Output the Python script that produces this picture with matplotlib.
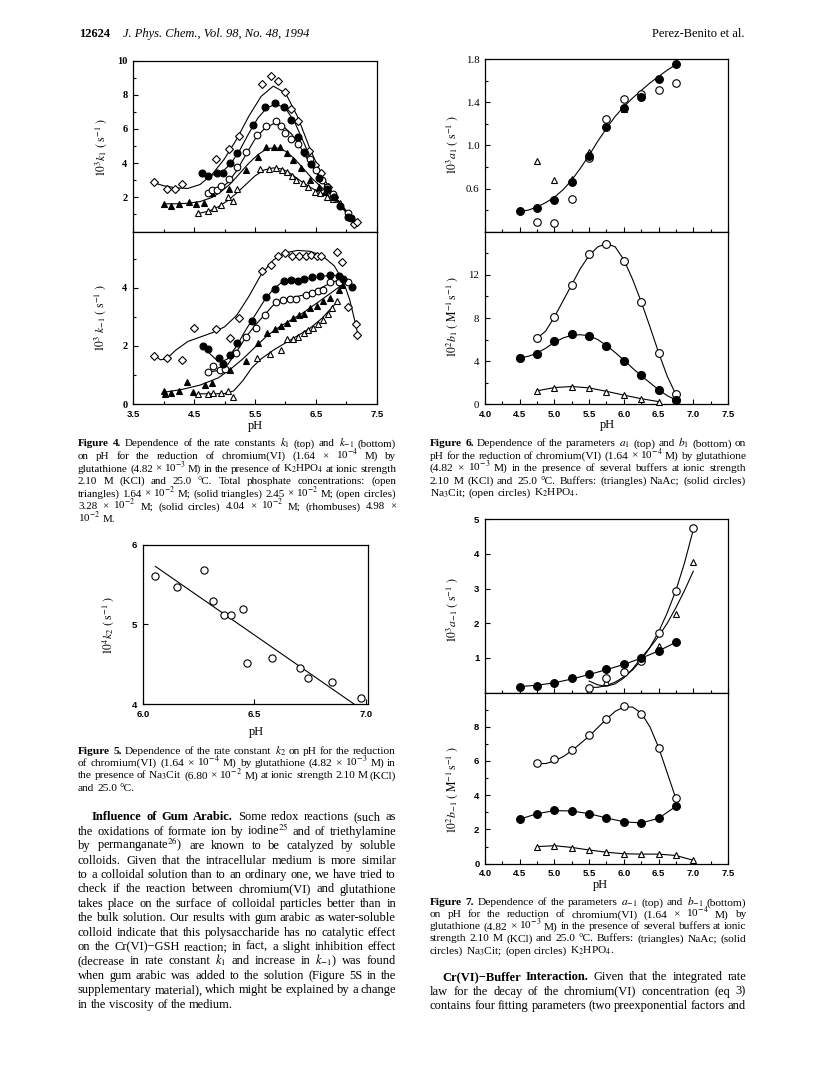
import matplotlib
matplotlib.use('Agg')
import matplotlib.pyplot as plt
from matplotlib.transforms import IdentityTransform

W, H = 820, 1068

# ---- Figure 4 (k1 top, k-1 bottom), five phosphate concentrations ----
f4t_di_x = [3.84, 4.05, 4.19, 4.30, 4.86, 5.08, 5.23, 5.61, 5.76, 5.87, 6.00, 6.09, 6.20, 6.39, 6.48, 6.59, 6.70, 6.80, 7.12, 7.18]
f4t_di_y = [2.91, 2.47, 2.47, 2.80, 4.26, 4.81, 5.60, 8.64, 9.09, 8.78, 8.16, 7.18, 6.48, 4.73, 3.89, 3.40, 2.62, 2.04, 0.45, 0.55]
f4t_sc_x = [4.63, 4.73, 4.88, 4.98, 5.09, 5.21, 5.46, 5.66, 5.82, 5.98, 6.09, 6.21, 6.31, 6.42, 6.55, 6.68, 6.80, 6.89, 7.03, 7.08]
f4t_sc_y = [3.44, 3.25, 3.40, 3.40, 3.99, 4.61, 6.23, 7.30, 7.50, 7.30, 6.52, 5.51, 4.63, 3.95, 3.10, 2.50, 2.00, 1.49, 0.87, 0.80]
f4t_oc_x = [4.73, 4.79, 4.87, 4.95, 5.08, 5.20, 5.35, 5.53, 5.68, 5.84, 5.92, 5.99, 6.09, 6.20, 6.32, 6.40, 6.50, 6.60, 6.68, 6.78, 7.02]
f4t_oc_y = [2.27, 2.42, 2.43, 2.66, 3.05, 3.79, 4.67, 5.64, 6.17, 6.48, 6.17, 5.78, 5.39, 5.12, 4.61, 4.22, 3.60, 3.00, 2.62, 2.18, 1.10]
f4t_st_x = [4.00, 4.13, 4.25, 4.41, 4.54, 4.66, 4.79, 5.07, 5.36, 5.55, 5.68, 5.81, 5.91, 6.02, 6.13, 6.25, 6.40, 6.55, 6.65, 6.78]
f4t_st_y = [1.61, 1.49, 1.61, 1.74, 1.61, 1.67, 2.23, 2.47, 3.60, 4.37, 4.96, 4.96, 4.96, 4.57, 4.18, 3.70, 3.00, 2.60, 2.30, 2.03]
f4t_ot_x = [4.57, 4.73, 4.82, 4.95, 5.06, 5.14, 5.21, 5.59, 5.73, 5.84, 5.94, 6.02, 6.10, 6.18, 6.28, 6.37, 6.48, 6.57, 6.68, 6.78, 6.89]
f4t_ot_y = [1.06, 1.22, 1.36, 1.55, 2.00, 1.77, 2.47, 3.65, 3.65, 3.70, 3.60, 3.48, 3.25, 3.01, 2.85, 2.62, 2.33, 2.23, 2.03, 1.88, 1.68]

f4t_di_fx = [3.84, 4.0, 4.2, 4.4, 4.6, 4.8, 5.0, 5.2, 5.4, 5.6, 5.8, 6.0, 6.2, 6.4, 6.6, 6.8, 7.0, 7.2]
f4t_di_fy = [2.85, 2.68, 2.55, 2.52, 2.75, 3.35, 4.25, 5.40, 6.75, 7.90, 8.50, 8.10, 6.70, 4.85, 3.25, 2.10, 1.20, 0.45]
f4t_sc_fx = [4.63, 4.8, 4.95, 5.1, 5.25, 5.4, 5.55, 5.7, 5.85, 6.0, 6.15, 6.3, 6.45, 6.6, 6.75, 6.9, 7.05]
f4t_sc_fy = [3.35, 3.30, 3.45, 3.95, 4.75, 5.75, 6.65, 7.25, 7.45, 7.20, 6.40, 5.20, 3.95, 2.95, 2.20, 1.50, 0.85]
f4t_oc_fx = [4.73, 4.9, 5.05, 5.2, 5.35, 5.5, 5.65, 5.8, 5.95, 6.1, 6.25, 6.4, 6.55, 6.7, 6.85, 7.0]
f4t_oc_fy = [2.20, 2.40, 2.85, 3.55, 4.50, 5.40, 6.00, 6.30, 6.20, 5.70, 4.90, 4.00, 3.20, 2.50, 1.85, 1.15]
f4t_st_fx = [4.0, 4.2, 4.4, 4.6, 4.8, 4.95, 5.1, 5.25, 5.4, 5.55, 5.7, 5.85, 6.0, 6.15, 6.3, 6.45, 6.6, 6.8]
f4t_st_fy = [1.62, 1.62, 1.65, 1.75, 2.00, 2.35, 2.80, 3.40, 4.00, 4.50, 4.85, 4.90, 4.70, 4.25, 3.65, 3.05, 2.55, 2.00]
f4t_ot_fx = [4.57, 4.75, 4.9, 5.05, 5.2, 5.35, 5.5, 5.65, 5.8, 5.95, 6.1, 6.25, 6.4, 6.55, 6.7, 6.9]
f4t_ot_fy = [1.05, 1.20, 1.45, 1.80, 2.25, 2.75, 3.25, 3.60, 3.72, 3.65, 3.35, 2.95, 2.60, 2.30, 2.05, 1.70]

f4b_di_x = [3.84, 4.05, 4.30, 4.50, 4.86, 5.09, 5.23, 5.61, 5.76, 5.87, 5.99, 6.11, 6.22, 6.33, 6.42, 6.51, 6.59, 6.85, 6.93, 7.02, 7.15, 7.17]
f4b_di_y = [1.66, 1.58, 1.52, 2.60, 2.59, 2.26, 2.96, 4.56, 4.79, 5.08, 5.20, 5.08, 5.08, 5.10, 5.12, 5.08, 5.08, 5.22, 4.89, 3.33, 2.76, 2.38]
f4b_sc_x = [4.64, 4.73, 4.91, 4.98, 5.09, 5.21, 5.45, 5.68, 5.82, 5.98, 6.09, 6.20, 6.31, 6.44, 6.57, 6.73, 6.87, 6.95, 7.09]
f4b_sc_y = [1.98, 1.89, 1.58, 1.38, 1.69, 2.11, 2.84, 3.67, 3.96, 4.24, 4.26, 4.24, 4.28, 4.36, 4.39, 4.45, 4.41, 4.30, 4.01]
f4b_oc_x = [4.73, 4.81, 4.92, 5.00, 5.19, 5.35, 5.52, 5.66, 5.84, 5.96, 6.07, 6.18, 6.34, 6.44, 6.54, 6.62, 6.73, 6.88, 7.02]
f4b_oc_y = [1.11, 1.29, 1.18, 1.20, 1.77, 2.32, 2.61, 3.07, 3.49, 3.59, 3.62, 3.62, 3.76, 3.80, 3.87, 3.93, 4.18, 4.20, 4.18]
f4b_st_x = [4.00, 4.02, 4.13, 4.25, 4.38, 4.48, 4.68, 4.80, 5.09, 5.36, 5.55, 5.69, 5.82, 5.93, 6.03, 6.13, 6.22, 6.30, 6.40, 6.51, 6.62, 6.73, 6.87, 6.93]
f4b_st_y = [0.46, 0.35, 0.38, 0.43, 0.74, 0.40, 0.65, 0.71, 1.17, 1.48, 2.11, 2.44, 2.58, 2.67, 2.80, 2.96, 3.05, 3.10, 3.30, 3.36, 3.53, 3.64, 3.93, 4.10]
f4b_ot_x = [4.57, 4.73, 4.81, 4.95, 5.06, 5.14, 5.53, 5.75, 5.93, 6.02, 6.13, 6.20, 6.30, 6.37, 6.45, 6.54, 6.62, 6.70, 6.77, 6.84]
f4b_ot_y = [0.34, 0.36, 0.38, 0.38, 0.44, 0.25, 1.58, 1.72, 1.86, 2.24, 2.24, 2.30, 2.45, 2.55, 2.62, 2.75, 2.90, 3.10, 3.30, 3.53]

f4b_di_fx = [3.84, 3.95, 4.05, 4.2, 4.4, 4.6, 4.8, 5.0, 5.2, 5.4, 5.6, 5.8, 6.0, 6.2, 6.4, 6.6, 6.8, 6.95, 7.05, 7.12, 7.18]
f4b_di_fy = [1.68, 1.52, 1.55, 1.85, 2.15, 2.30, 2.45, 2.65, 3.05, 3.70, 4.45, 4.95, 5.20, 5.28, 5.25, 5.10, 4.75, 4.20, 3.60, 3.00, 2.45]
f4b_sc_fx = [4.64, 4.75, 4.85, 4.95, 5.05, 5.2, 5.35, 5.5, 5.65, 5.8, 5.95, 6.1, 6.3, 6.5, 6.7, 6.85, 7.0, 7.1]
f4b_sc_fy = [2.00, 1.75, 1.55, 1.45, 1.55, 2.00, 2.55, 3.05, 3.55, 3.95, 4.20, 4.28, 4.30, 4.35, 4.42, 4.42, 4.20, 4.00]
f4b_oc_fx = [4.73, 4.9, 5.05, 5.2, 5.35, 5.5, 5.65, 5.8, 5.95, 6.1, 6.3, 6.5, 6.7, 6.85, 7.0]
f4b_oc_fy = [1.10, 1.15, 1.35, 1.80, 2.30, 2.70, 3.05, 3.40, 3.58, 3.65, 3.75, 3.90, 4.12, 4.25, 4.20]
f4b_st_fx = [4.0, 4.3, 4.6, 4.9, 5.1, 5.3, 5.5, 5.7, 5.9, 6.1, 6.3, 6.5, 6.7, 6.93]
f4b_st_fy = [0.40, 0.50, 0.65, 0.90, 1.20, 1.55, 1.95, 2.35, 2.65, 2.90, 3.15, 3.45, 3.75, 4.10]
f4b_ot_fx = [4.57, 4.8, 5.0, 5.15, 5.3, 5.45, 5.6, 5.8, 6.0, 6.2, 6.4, 6.6, 6.84]
f4b_ot_fy = [0.35, 0.35, 0.36, 0.45, 0.80, 1.25, 1.55, 1.85, 2.10, 2.35, 2.60, 2.95, 3.50]

# ---- Figure 5 (k2 vs pH, Na3Cit) ----
f5_x = [6.055, 6.152, 6.275, 6.315, 6.365, 6.396, 6.447, 6.467, 6.577, 6.706, 6.740, 6.848, 6.980]
f5_y = [5.61, 5.475, 5.68, 5.30, 5.115, 5.115, 5.20, 4.52, 4.575, 4.45, 4.33, 4.28, 4.08]
f5_line_x = [6.056, 6.947]
f5_line_y = [5.73, 4.00]

# ---- Figure 6 (a1 top, b1 bottom); buffers ----
ph_q = [4.5, 4.75, 5.0, 5.25, 5.5, 5.75, 6.0, 6.25, 6.5, 6.75, 7.0]
f6t_sc_y = [0.39, 0.42, 0.49, 0.66, 0.90, 1.17, 1.345, 1.45, 1.62, 1.76]
f6t_oc_x = [4.75, 5.0, 5.25, 5.5, 5.75, 6.0, 6.25, 6.5, 6.75]
f6t_oc_y = [0.29, 0.285, 0.50, 0.88, 1.245, 1.43, 1.475, 1.515, 1.58]
f6t_ot_x = [4.75, 5.0, 5.25, 5.5, 5.75, 6.0, 6.25]
f6t_ot_y = [0.86, 0.68, 0.69, 0.94, 1.18, 1.34, 1.46]
f6t_fx = [4.5, 4.625, 4.75, 4.875, 5.0, 5.125, 5.25, 5.375, 5.5, 5.625, 5.75, 5.875, 6.0, 6.125, 6.25, 6.375, 6.5, 6.625, 6.75]
f6t_fy = [0.39, 0.40, 0.43, 0.47, 0.52, 0.59, 0.68, 0.79, 0.91, 1.04, 1.16, 1.27, 1.36, 1.44, 1.51, 1.58, 1.64, 1.70, 1.75]

f6b_oc_y = [6.14, 8.09, 11.1, 13.9, 14.9, 13.27, 9.45, 4.74, 0.96]
f6b_sc_y = [4.28, 4.68, 5.83, 6.54, 6.35, 5.42, 4.06, 2.67, 1.33, 0.40]
f6b_ot_x = [4.75, 5.0, 5.25, 5.5, 5.75, 6.0, 6.25, 6.5]
f6b_ot_y = [1.24, 1.55, 1.64, 1.49, 1.18, 0.87, 0.50, 0.25]
f6b_oc_fx = [4.75, 4.875, 5.0, 5.125, 5.25, 5.375, 5.5, 5.625, 5.75, 5.875, 6.0, 6.125, 6.25, 6.375, 6.5, 6.625, 6.75]
f6b_oc_fy = [6.1, 6.8, 8.1, 9.6, 11.1, 12.6, 13.8, 14.6, 14.9, 14.6, 13.4, 11.6, 9.5, 7.2, 4.8, 2.6, 0.9]
f6b_sc_fx = [4.5, 4.625, 4.75, 4.875, 5.0, 5.125, 5.25, 5.375, 5.5, 5.625, 5.75, 5.875, 6.0, 6.125, 6.25, 6.375, 6.5, 6.625, 6.75]
f6b_sc_fy = [4.30, 4.45, 4.75, 5.20, 5.75, 6.15, 6.40, 6.45, 6.35, 6.00, 5.45, 4.80, 4.10, 3.35, 2.65, 2.00, 1.35, 0.80, 0.40]
f6b_ot_fx = [4.75, 5.0, 5.25, 5.5, 5.75, 6.0, 6.25, 6.5]
f6b_ot_fy = [1.25, 1.55, 1.65, 1.52, 1.20, 0.85, 0.52, 0.25]

# ---- Figure 7 (a-1 top, b-1 bottom) ----
f7t_sc_y = [0.17, 0.20, 0.28, 0.41, 0.53, 0.68, 0.82, 1.00, 1.20, 1.46]
f7t_oc_x = [5.5, 5.75, 6.0, 6.25, 6.5, 6.75, 7.0]
f7t_oc_y = [0.12, 0.43, 0.60, 0.91, 1.72, 2.92, 4.75]
f7t_ot_x = [5.5, 5.75, 6.25, 6.5, 6.75, 7.0]
f7t_ot_y = [0.03, 0.31, 1.03, 1.35, 2.28, 3.77]
f7t_sc_fx = [4.5, 4.75, 5.0, 5.25, 5.5, 5.75, 6.0, 6.25, 6.5, 6.75]
f7t_sc_fy = [0.17, 0.21, 0.28, 0.39, 0.52, 0.66, 0.81, 0.99, 1.20, 1.45]
f7t_oc_fx = [5.5, 5.625, 5.75, 5.875, 6.0, 6.125, 6.25, 6.375, 6.5, 6.625, 6.75, 6.875, 7.0]
f7t_oc_fy = [0.15, 0.15, 0.20, 0.30, 0.45, 0.65, 0.93, 1.30, 1.75, 2.30, 2.95, 3.75, 4.70]
f7t_ot_fx = [5.5, 5.625, 5.75, 5.875, 6.0, 6.125, 6.25, 6.375, 6.5, 6.625, 6.75, 6.875, 7.0]
f7t_ot_fy = [0.33, 0.22, 0.18, 0.25, 0.42, 0.68, 1.00, 1.30, 1.62, 2.00, 2.45, 2.95, 3.50]

f7b_oc_y = [5.89, 6.09, 6.67, 7.50, 8.48, 9.20, 8.77, 6.77, 3.81]
f7b_sc_y = [2.59, 2.90, 3.13, 3.09, 2.90, 2.65, 2.41, 2.39, 2.68, 3.36]
f7b_ot_y = [0.99, 1.05, 0.93, 0.80, 0.66, 0.57, 0.56, 0.57, 0.51, 0.22]
f7b_oc_fx = [4.75, 4.875, 5.0, 5.125, 5.25, 5.5, 5.75, 5.875, 6.0, 6.125, 6.25, 6.375, 6.5, 6.625, 6.75]
f7b_oc_fy = [5.85, 5.85, 6.00, 6.25, 6.60, 7.45, 8.45, 8.90, 9.15, 9.15, 8.80, 8.00, 6.80, 5.30, 3.80]
f7b_sc_fy = [2.60, 2.92, 3.10, 3.08, 2.92, 2.67, 2.45, 2.38, 2.65, 3.35]
f7b_ot_fy = [1.00, 1.05, 0.95, 0.80, 0.67, 0.58, 0.56, 0.56, 0.48, 0.20]

# ---- page text ----
cap4 = [
    "*Figure *4.  Dependence of the rate constants $k_1$ (top) and $k_{-1}$ (bottom)",
    "on pH for the reduction of chromium(VI) (1.64 × 10$^{-4}$ M) by",
    "glutathione (4.82 × 10$^{-3}$ M) in the presence of K$_2$HPO$_4$ at ionic strength",
    "2.10 M (KCl) and 25.0 °C.  Total phosphate concentrations: (open",
    "triangles) 1.64 × 10$^{-2}$ M; (solid triangles) 2.45 × 10$^{-2}$ M; (open circles)",
    "3.28 × 10$^{-2}$ M; (solid circles) 4.04 × 10$^{-2}$ M; (rhombuses) 4.98 ×",
    "10$^{-2}$ M.",
]
cap5 = [
    "*Figure *5.  Dependence of the rate constant $k_2$ on pH for the reduction",
    "of chromium(VI) (1.64 × 10$^{-4}$ M) by glutathione (4.82 × 10$^{-3}$ M) in",
    "the presence of Na$_3$Cit (6.80 × 10$^{-2}$ M) at ionic strength 2.10 M (KCl)",
    "and 25.0 °C.",
]
body_left = [
    "*Influence *of *Gum *Arabic.  Some redox reactions (such as",
    "the oxidations of formate ion by iodine$^{25}$ and of triethylamine",
    "by permanganate$^{26}$) are known to be catalyzed by soluble",
    "colloids.  Given that the intracellular medium is more similar",
    "to a colloidal solution than to an ordinary one, we have tried to",
    "check if the reaction between chromium(VI) and glutathione",
    "takes place on the surface of colloidal particles better than in",
    "the bulk solution.  Our results with gum arabic as water-soluble",
    "colloid indicate that this polysaccharide has no catalytic effect",
    "on the Cr(VI)−GSH reaction; in fact, a slight inhibition effect",
    "(decrease in rate constant $k_1$ and increase in $k_{-1}$) was found",
    "when gum arabic was added to the solution (Figure 5S in the",
    "supplementary material), which might be explained by a change",
    "in the viscosity of the medium.",
]
cap6 = [
    "*Figure *6.  Dependence of the parameters $a_1$ (top) and $b_1$ (bottom) on",
    "pH for the reduction of chromium(VI) (1.64 × 10$^{-4}$ M) by glutathione",
    "(4.82 × 10$^{-3}$ M) in the presence of several buffers at ionic strength",
    "2.10 M (KCl) and 25.0 °C.  Buffers: (triangles) NaAc; (solid circles)",
    "Na$_3$Cit; (open circles) K$_2$HPO$_4$.",
]
cap7 = [
    "*Figure *7.  Dependence of the parameters $a_{-1}$ (top) and $b_{-1}$ (bottom)",
    "on pH for the reduction of chromium(VI) (1.64 × 10$^{-4}$ M) by",
    "glutathione (4.82 × 10$^{-3}$ M) in the presence of several buffers at ionic",
    "strength 2.10 M (KCl) and 25.0 °C.  Buffers: (triangles) NaAc; (solid",
    "circles) Na$_3$Cit; (open circles) K$_2$HPO$_4$.",
]
body_right = [
    "*Cr(VI)−Buffer *Interaction.  Given that the integrated rate",
    "law for the decay of the chromium(VI) concentration (eq 3)",
    "contains four fitting parameters (two preexponential factors and",
]

plt.rcParams['font.family'] = ['Liberation Serif', 'DejaVu Serif']
plt.rcParams['mathtext.fontset'] = 'stix'

fig = plt.figure(figsize=(W / 100, H / 100), dpi=100)
fig.patch.set_facecolor('white')
renderer = fig.canvas.get_renderer()
PIX = IdentityTransform()

TICKFONT = dict(family='Liberation Sans', weight='bold', size=6.8)


def panel(l, t, r, b):
    ax = fig.add_axes([l / W, 1 - b / H, (r - l) / W, (b - t) / H])
    for s in ax.spines.values():
        s.set_linewidth(0.9)
    ax.tick_params(which='both', direction='in', width=0.8, pad=4,
                   top=False, right=False)
    ax.tick_params(which='major', length=3.5)
    ax.tick_params(which='minor', length=2.2)
    return ax


def ticks(ax, xmaj=None, xlab=True, xmin=None, ymaj=None, ymin=None, yfmt='{:g}', yfont=None):
    if xmaj is not None:
        ax.set_xticks(xmaj)
        if xlab:
            ax.set_xticklabels(['{:.1f}'.format(v) for v in xmaj], fontdict=TICKFONT)
        else:
            ax.set_xticklabels([])
    if xmin is not None:
        ax.set_xticks(xmin, minor=True)
    if ymaj is not None:
        ax.set_yticks(ymaj)
        ax.set_yticklabels([yfmt.format(v) for v in ymaj], fontdict=yfont or TICKFONT)
    if ymin is not None:
        ax.set_yticks(ymin, minor=True)


MK = {
    'oc': dict(marker='o', mfc='white', ms=5.0),
    'sc': dict(marker='o', mfc='black', ms=5.2),
    'ot': dict(marker='^', mfc='white', ms=4.6),
    'st': dict(marker='^', mfc='black', ms=4.6),
    'di': dict(marker='D', mfc='white', ms=3.8),
}


def pts(ax, x, y, kind, ms=None):
    st = dict(MK[kind])
    if ms:
        st['ms'] = ms
    ax.plot(x, y, ls='none', mec='black', mew=0.8, zorder=3, clip_on=False, **st)


def fit(ax, x, y):
    ax.plot(x, y, color='black', lw=0.8, zorder=2, clip_on=False)


def vlabel(x, y, s, size=8.5):
    fig.text(x, H - y, s, transform=PIX, rotation=90, ha='center', va='center', fontsize=size)


def hlabel(x, y, s, size=9):
    fig.text(x, H - y, s, transform=PIX, ha='center', va='center', fontsize=size)


def build(lines, size):
    out = []
    for line in lines:
        items = []
        for tok in [t for t in line.split(' ') if t]:
            weight = 'normal'
            if tok.startswith('*'):
                tok = tok[1:]
                weight = 'bold'
            t = fig.text(0, 0, tok, transform=PIX, fontsize=size, fontweight=weight,
                         ha='left', va='baseline')
            items.append((t, t.get_window_extent(renderer).width))
        out.append(items)
    return out


def para(lines, x0, x1, y0, step, size, indent=0, last_ragged=True):
    # largest font size (up to `size`) whose justified lines keep a sensible word gap
    while True:
        rows = build(lines, size)
        em = size * 100 / 72
        gaps = []
        for i, items in enumerate(rows):
            left = x0 + (indent if i == 0 else 0)
            total = sum(w for _, w in items)
            if (i == len(rows) - 1 and last_ragged) or len(items) < 2:
                gaps.append(None)
            else:
                gaps.append((x1 - left - total) / (len(items) - 1))
        real = [g for g in gaps if g is not None]
        if not real or min(real) >= 0.2 * em or size <= 6:
            break
        for items in rows:
            for t, _ in items:
                t.remove()
        size -= 0.1
    for i, items in enumerate(rows):
        x = x0 + (indent if i == 0 else 0)
        gap = gaps[i] if gaps[i] is not None else 0.25 * em
        yb = H - (y0 + i * step + 3)
        for t, w in items:
            t.set_position((x, yb))
            x += w + gap


# ---------- Figure 4 ----------
x4maj = [3.5, 4.5, 5.5, 6.5, 7.5]
x4min = [4.0, 5.0, 6.0, 7.0]
serif_b = dict(family='Liberation Serif', weight='bold', size=7.5)

ax = panel(133, 60.5, 377, 231.5)
ax.set_xlim(3.5, 7.5)
ax.set_ylim(0, 10)
ticks(ax, x4maj, False, x4min, [2, 4, 6, 8, 10], [1, 3, 5, 7, 9], yfont=serif_b)
for xs, ys in [(f4t_di_fx, f4t_di_fy), (f4t_sc_fx, f4t_sc_fy), (f4t_oc_fx, f4t_oc_fy),
               (f4t_st_fx, f4t_st_fy), (f4t_ot_fx, f4t_ot_fy)]:
    fit(ax, xs, ys)
pts(ax, f4t_di_x, f4t_di_y, 'di')
pts(ax, f4t_ot_x, f4t_ot_y, 'ot', 4.2)
pts(ax, f4t_st_x, f4t_st_y, 'st', 4.2)
pts(ax, f4t_oc_x, f4t_oc_y, 'oc', 4.8)
pts(ax, f4t_sc_x, f4t_sc_y, 'sc', 5.0)

ax = panel(133, 231.5, 377, 404)
ax.set_xlim(3.5, 7.5)
ax.set_ylim(0, 5.93)
ticks(ax, x4maj, True, x4min, [0, 2, 4], [1, 3, 5], yfont=serif_b)
for xs, ys in [(f4b_di_fx, f4b_di_fy), (f4b_sc_fx, f4b_sc_fy), (f4b_oc_fx, f4b_oc_fy),
               (f4b_st_fx, f4b_st_fy), (f4b_ot_fx, f4b_ot_fy)]:
    fit(ax, xs, ys)
pts(ax, f4b_di_x, f4b_di_y, 'di')
pts(ax, f4b_ot_x, f4b_ot_y, 'ot', 4.2)
pts(ax, f4b_st_x, f4b_st_y, 'st', 4.2)
pts(ax, f4b_oc_x, f4b_oc_y, 'oc', 4.8)
pts(ax, f4b_sc_x, f4b_sc_y, 'sc', 5.0)

vlabel(101, 147, r'$10^3k_1\ (\ \mathrm{s}^{-1}\ )$')
vlabel(100, 318, r'$10^3\ k_{-1}\ (\ \mathrm{s}^{-1}\ )$')
hlabel(255, 426, 'pH')

# ---------- Figure 5 ----------
ax = panel(143, 545, 368, 704)
ax.set_xlim(6.0, 7.01)
ax.set_ylim(4, 6)
ticks(ax, [6.0, 6.5, 7.0], True, None, [4, 5, 6], None)
ax.plot(f5_line_x, f5_line_y, color='black', lw=0.8)
pts(ax, f5_x, f5_y, 'oc', 5.2)
vlabel(108, 625, r'$10^4k_2\ (\ \mathrm{s}^{-1}\ )$')
hlabel(256, 732, 'pH')

# ---------- Figure 6 ----------
x6maj = [4.0, 4.5, 5.0, 5.5, 6.0, 6.5, 7.0, 7.5]
x6min = [4.25, 4.75, 5.25, 5.75, 6.25, 6.75, 7.25]
serif_r = dict(family='Liberation Serif', size=7.8)

ax = panel(485, 59.3, 728, 231.7)
ax.set_xlim(4.0, 7.5)
ax.set_ylim(0.2, 1.8)
ticks(ax, x6maj, False, x6min, [0.6, 1.0, 1.4, 1.8], [0.4, 0.8, 1.2, 1.6], '{:.1f}', serif_r)
fit(ax, f6t_fx, f6t_fy)
pts(ax, f6t_ot_x, f6t_ot_y, 'ot', 4.4)
pts(ax, f6t_oc_x, f6t_oc_y, 'oc', 5.4)
pts(ax, ph_q[:10], f6t_sc_y, 'sc', 5.6)

ax = panel(485, 231.7, 728, 404.3)
ax.set_xlim(4.0, 7.5)
ax.set_ylim(0, 16)
ticks(ax, x6maj, True, x6min, [0, 4, 8, 12], [2, 6, 10, 14], yfont=serif_r)
fit(ax, f6b_oc_fx, f6b_oc_fy)
fit(ax, f6b_sc_fx, f6b_sc_fy)
fit(ax, f6b_ot_fx, f6b_ot_fy)
pts(ax, f6b_ot_x, f6b_ot_y, 'ot', 4.4)
pts(ax, ph_q[1:10], f6b_oc_y, 'oc', 5.6)
pts(ax, ph_q[:10], f6b_sc_y, 'sc', 5.8)

vlabel(452, 145, r'$10^3a_1\ (\ \mathrm{s}^{-1}\ )$')
vlabel(452, 317, r'$10^2b_1\ (\ \mathrm{M}^{-1}\,\mathrm{s}^{-1}\ )$')
hlabel(607, 425, 'pH')

# ---------- Figure 7 ----------
ax = panel(485, 519.3, 728, 692.5)
ax.set_xlim(4.0, 7.5)
ax.set_ylim(0, 5)
ticks(ax, x6maj, False, x6min, [1, 2, 3, 4, 5], None)
fit(ax, f7t_sc_fx, f7t_sc_fy)
fit(ax, f7t_oc_fx, f7t_oc_fy)
fit(ax, f7t_ot_fx, f7t_ot_fy)
pts(ax, f7t_ot_x, f7t_ot_y, 'ot', 4.4)
pts(ax, f7t_oc_x, f7t_oc_y, 'oc', 5.4)
pts(ax, ph_q[:10], f7t_sc_y, 'sc', 5.6)

ax = panel(485, 692.5, 728, 863.7)
ax.set_xlim(4.0, 7.5)
ax.set_ylim(0, 10)
ticks(ax, x6maj, True, x6min, [0, 2, 4, 6, 8], [1, 3, 5, 7, 9])
fit(ax, f7b_oc_fx, f7b_oc_fy)
fit(ax, ph_q[:10], f7b_sc_fy)
fit(ax, ph_q[1:], f7b_ot_fy)
pts(ax, ph_q[1:], f7b_ot_y, 'ot', 4.4)
pts(ax, ph_q[1:10], f7b_oc_y, 'oc', 5.4)
pts(ax, ph_q[:10], f7b_sc_y, 'sc', 5.6)

vlabel(452, 610, r'$10^3a_{-1}\ (\ \mathrm{s}^{-1}\ )$')
vlabel(452, 790, r'$10^2b_{-1}\ (\ \mathrm{M}^{-1}\,\mathrm{s}^{-1}\ )$')
hlabel(600, 885, 'pH')

# ---------- page header ----------
fig.text(79, H - 37, '12624', transform=PIX, fontsize=9, fontweight='bold', ha='left', va='baseline')
fig.text(123, H - 37, 'J. Phys. Chem., Vol. 98, No. 48, 1994', transform=PIX, fontsize=9,
         style='italic', ha='left', va='baseline')
fig.text(745, H - 37, 'Perez-Benito et al.', transform=PIX, fontsize=9, ha='right', va='baseline')

# ---------- captions and body text ----------
para(cap4, 78, 396, 443.3, 12.6, 8.2)
para(cap5, 78, 396, 751, 12.2, 8.2)
para(body_left, 78, 396, 817.5, 14.4, 9.2, indent=14)
para(cap6, 430, 746, 443.3, 12.4, 8.2)
para(cap7, 430, 746, 902.3, 12.0, 8.2)
para(body_right, 430, 746, 977.3, 14.4, 9.2, indent=12, last_ragged=False)

fig.savefig('out.png', dpi=100, facecolor='white')
